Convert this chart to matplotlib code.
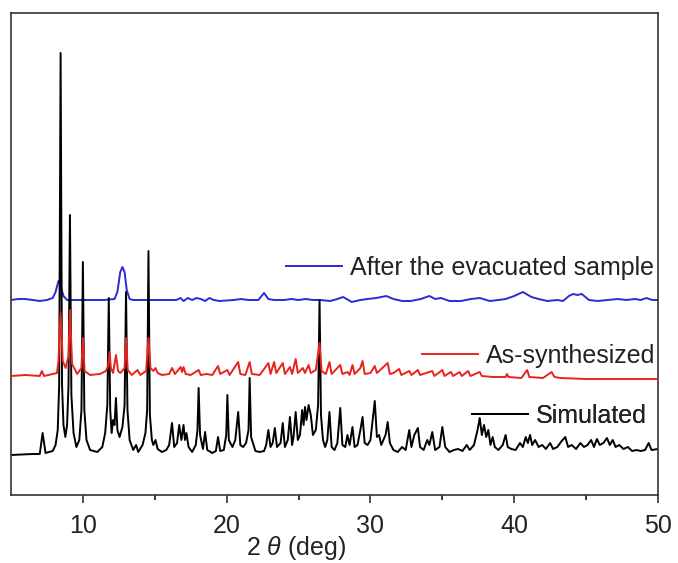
import matplotlib
matplotlib.use("Agg")
import matplotlib.pyplot as plt
from matplotlib.lines import Line2D

plt.rcParams['font.family'] = ['Liberation Sans', 'DejaVu Sans']
plt.rcParams['mathtext.fontset'] = 'custom'
plt.rcParams['mathtext.rm'] = 'Liberation Sans'
plt.rcParams['mathtext.it'] = 'Liberation Sans:italic'

#------ Simulated pattern (2theta, intensity) -----#
sim_x = [5.0, 6.5, 7.0, 7.2, 7.4, 7.9, 8.1, 8.25, 8.35, 8.45, 8.55, 8.65, 8.78, 8.9, 9.0, 9.1, 9.2, 9.35,
         9.55, 9.75, 9.9, 10.0, 10.1, 10.25, 10.5, 11.0, 11.35, 11.55, 11.7, 11.8, 11.9, 12.0, 12.1, 12.2,
         12.3, 12.4, 12.55, 12.75, 12.9, 13.0, 13.1, 13.25, 13.5, 13.7, 13.85, 14.15, 14.35, 14.47, 14.56,
         14.66, 14.8, 14.9, 15.05, 15.2, 15.5, 15.8, 16.0, 16.2, 16.35, 16.55, 16.7, 16.85, 17.0,
         17.1, 17.2, 17.35, 17.6, 17.85, 17.97, 18.05, 18.15, 18.35, 18.5, 18.65, 19.0, 19.25, 19.4, 19.55,
         19.8, 19.97, 20.05, 20.15, 20.4, 20.6, 20.8, 20.95, 21.15, 21.35, 21.52, 21.6, 21.7, 22.0, 22.3,
         22.6, 22.75, 22.9, 23.05, 23.2, 23.35, 23.5, 23.75, 23.9, 24.05, 24.25, 24.4, 24.55, 24.65, 24.8,
         24.95, 25.1, 25.25, 25.35, 25.45, 25.55, 25.7, 25.85, 26.0, 26.2, 26.36, 26.46, 26.56, 26.7, 26.85,
         27.0, 27.15, 27.3, 27.5, 27.7, 27.9, 28.05, 28.25, 28.4, 28.55, 28.75, 28.9, 29.1, 29.3, 29.45,
         29.6, 29.8, 30.0, 30.3, 30.45, 30.6, 30.75, 30.9, 31.05, 31.2, 31.35, 31.6, 31.9, 32.2, 32.45,
         32.7, 32.85, 33.05, 33.3, 33.45, 33.7, 33.95, 34.1, 34.3, 34.5, 34.8, 35.0, 35.2, 35.5, 35.8,
         36.1, 36.4, 36.7, 36.9, 37.2, 37.45, 37.6, 37.75, 37.9, 38.05, 38.2, 38.35, 38.5, 38.65, 38.9,
         39.2, 39.4, 39.55, 39.8, 40.1, 40.4, 40.6, 40.8, 40.95, 41.1, 41.25, 41.45, 41.7, 41.95, 42.2,
         42.5, 42.7, 43.0, 43.3, 43.55, 43.75, 44.0, 44.3, 44.6, 44.85, 45.1, 45.35, 45.55, 45.75, 45.95,
         46.2, 46.45, 46.65, 46.85, 47.05, 47.3, 47.6, 47.9, 48.2, 48.5, 48.8, 49.1, 49.35, 49.55, 50.0]
sim_y = [0, 1, 1, 22, 2, 4, 10, 25, 70, 402, 70, 30, 18, 30, 70, 240, 60, 22,
         8, 15, 45, 193, 45, 15, 5, 3, 8, 22, 50, 157, 45, 22, 35, 30,
         57, 25, 18, 28, 50, 163, 45, 15, 5, 10, 3, 10, 22, 45, 204,
         40, 15, 10, 15, 6, 3, 5, 10, 32, 8, 12, 30, 15, 30,
         15, 22, 8, 3, 10, 25, 67, 20, 6, 23, 5, 2, 4, 18, 4,
         5, 20, 60, 15, 8, 15, 43, 10, 8, 12, 25, 77, 18, 4, 3,
         4, 10, 25, 8, 12, 27, 8, 12, 32, 8, 15, 38, 10, 18, 43,
         15, 20, 45, 30, 48, 35, 50, 40, 20, 25, 50, 155, 40, 15, 8,
         15, 43, 8, 5, 12, 47, 10, 8, 20, 10, 28, 8, 10, 25, 38,
         12, 10, 15, 54, 18, 20, 10, 15, 20, 33, 12, 5, 3, 8, 5,
         25, 8, 20, 27, 8, 5, 15, 10, 23, 5, 8, 28, 8, 3, 5,
         6, 4, 10, 5, 10, 25, 37, 20, 30, 18, 25, 10, 18, 8, 5,
         10, 20, 8, 6, 5, 12, 8, 18, 12, 20, 10, 15, 8, 10, 6,
         12, 6, 8, 14, 18, 8, 10, 6, 12, 8, 10, 15, 8, 16, 10,
         12, 17, 10, 15, 8, 10, 6, 8, 4, 5, 4, 5, 12, 5, 6]

#------ As-synthesized pattern -----#
syn_x = [5.0, 6.0, 7.0, 7.15, 7.3, 8.2, 8.3, 8.45, 8.6, 8.8, 9.0, 9.1, 9.25, 9.6, 9.9, 10.0, 10.12, 10.5,
         11.2, 11.6, 11.75, 11.85, 11.95, 12.1, 12.3, 12.45, 12.6, 12.9, 13.0, 13.12, 13.4, 13.8, 14.0,
         14.4, 14.56, 14.7, 14.9, 15.05, 15.2, 15.5, 16.0, 16.2, 16.4, 16.8, 16.9, 17.0, 17.15, 17.5,
         18.05, 18.2, 18.6, 19.0, 19.4, 19.55, 20.05, 20.2, 20.8, 20.95, 21.3, 21.6, 21.75, 22.3, 22.9,
         23.05, 23.3, 23.45, 23.9, 24.05, 24.4, 24.55, 24.8, 24.95, 25.3, 25.45, 25.7, 25.85, 26.2,
         26.46, 26.6, 26.9, 27.15, 27.3, 27.9, 28.05, 28.4, 28.55, 28.75, 28.9, 29.3, 29.45, 29.6, 30.0,
         30.3, 30.45, 31.2, 31.35, 31.6, 32.0, 32.15, 32.7, 32.85, 33.3, 33.45, 34.3, 34.45, 35.0, 35.15,
         35.6, 35.75, 36.2, 36.35, 36.8, 36.95, 37.6, 37.75, 38.5, 39.4, 39.5, 39.6, 40.5, 40.9, 41.05,
         42.0, 42.6, 42.8, 43.2, 45.0, 47.0, 50.0]
syn_y = [0, 1, 0, 5, 0, 3, 15, 63, 15, 8, 20, 66, 12, 2, 8, 38, 5, 1,
         2, 5, 10, 24, 8, 3, 21, 5, 3, 8, 38, 6, 1, 6, 1,
         5, 38, 8, 5, 8, 3, 1, 2, 8, 2, 9, 4, 9, 2, 1,
         6, 1, 2, 1, 10, 2, 6, 1, 14, 2, 1, 14, 2, 1, 13,
         2, 14, 3, 13, 2, 9, 2, 17, 3, 8, 3, 11, 3, 6,
         33, 5, 2, 14, 2, 11, 2, 4, 1, 11, 2, 8, 15, 2, 3,
         10, 3, 13, 2, 3, 7, 1, 5, 1, 6, 1, 5, 0, 6, 0,
         4, 0, 4, 0, 5, 0, 4, 0, -1, -1, 2, -1, -2, 6, -1,
         -2, 4, -1, -2, -3, -3, -3]

#------ After the evacuated sample -----#
eva_x = [5.0, 5.5, 6.0, 6.5, 7.0, 7.5, 7.9, 8.1, 8.3, 8.45, 8.65, 8.9, 9.5, 10.5, 11.5, 12.2, 12.4, 12.6,
         12.75, 12.9, 13.05, 13.25, 13.5, 15.0, 16.5, 16.8, 17.0, 17.3, 17.6, 17.9, 18.2, 18.5, 18.8,
         19.1, 19.5, 20.5, 21.0, 21.5, 22.2, 22.6, 22.9, 23.3, 24.0, 24.5, 25.0, 25.5, 26.0, 26.5,
         27.2, 27.7, 28.1, 28.7, 29.3, 29.8, 30.4, 31.1, 31.6, 32.2, 32.8, 33.5, 34.1, 34.5, 34.9,
         35.5, 36.3, 37.0, 37.6, 38.3, 38.9, 39.4, 40.0, 40.6, 41.2, 41.7, 42.3, 43.0, 43.4, 43.8,
         44.1, 44.4, 44.7, 45.2, 45.8, 46.5, 47.2, 47.8, 48.4, 48.8, 49.2, 49.6, 50.0]
eva_y = [0, 1, 1, 0, -1, 0, 2, 8, 19, 14, 4, 0, 0, 0, 0, 1, 8, 28,
         33, 28, 10, 1, 0, 0, 0, 2, -1, 2, 0, 2, 1, -1, 2,
         0, -1, 0, 1, 0, 0, 7, 1, 0, 0, 1, 0, 1, 0, 0,
         -1, 1, 3, -2, 0, 1, 2, 4, 1, -1, -1, 1, 4, 1, 2,
         -1, -1, 1, 2, -1, 0, 1, 4, 8, 3, 1, -1, 0, -1, 4,
         6, 5, 6, 0, -1, 0, 1, 0, 1, 0, 2, 0, 0]

# vertical offsets of the stacked patterns
sim_offset = 40
syn_offset = 119
eva_offset = 195

blue = "#2a2ad6"
red = "#e8231d"

fig = plt.figure(figsize=(6.78, 5.63), dpi=100)
ax = fig.add_axes([11/678, 68/563, 647/678, 482/563])

ax.plot(eva_x, [v + eva_offset for v in eva_y], color=blue, lw=1.4, zorder=1)
ax.plot(sim_x, [v + sim_offset for v in sim_y], color="black", lw=1.4, zorder=2)
ax.plot(syn_x, [v + syn_offset for v in syn_y], color=red, lw=1.4, zorder=3)

ax.set_xlim(5, 50)
ax.set_ylim(0, 482)
ax.set_yticks([])
ax.set_xticks([10, 20, 30, 40, 50])
ax.set_xticks([15, 25, 35, 45], minor=True)
ax.tick_params(axis="x", which="major", length=6, width=1.1, direction="out", pad=8,
               labelsize=18, colors="#222222")
ax.tick_params(axis="x", which="minor", length=3.5, width=1.1, direction="out")
for s in ax.spines.values():
    s.set_linewidth(1.2)
    s.set_color("#333333")

ax.text(0.44, -0.11, r"2 $\theta$ (deg)", transform=ax.transAxes, ha="center", va="center",
        fontsize=18, color="#222222")

# legend entries placed next to each pattern
def add_key(color, label, xa, ya):
    h = Line2D([], [], color=color, lw=1.4)
    leg = ax.legend([h], [label], loc="center left", bbox_to_anchor=(xa, ya), frameon=False,
                    fontsize=18, handlelength=2.25, handletextpad=0.3, borderpad=0, borderaxespad=0)
    for t in leg.get_texts():
        t.set_color("#222222")
    ax.add_artist(leg)

add_key(blue, "After the evacuated sample", 0.425, 0.471)
add_key(red, "As-synthesized", 0.635, 0.288)
add_key("black", "Simulated", 0.7125, 0.164)

plt.savefig("out.png", dpi=100)
